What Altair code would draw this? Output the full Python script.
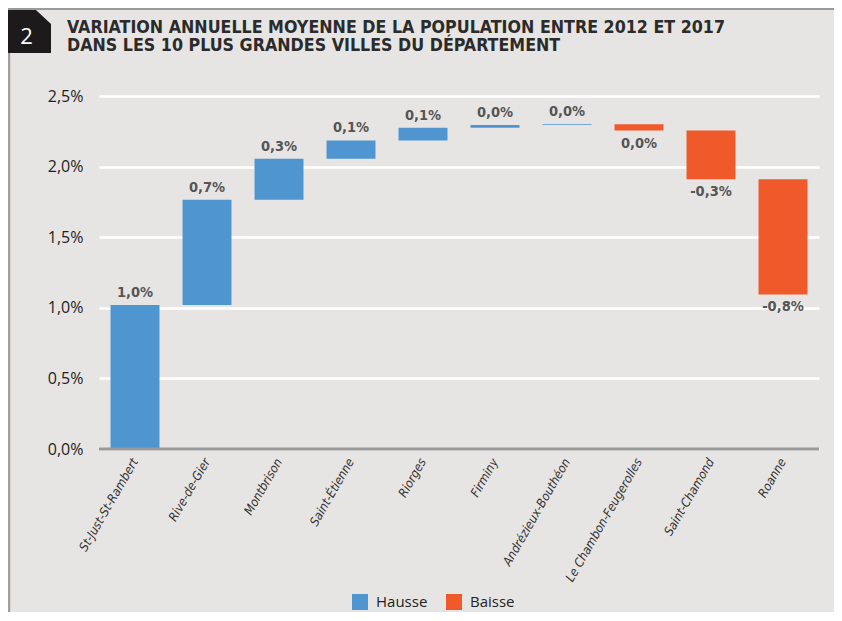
import altair as alt
import pandas as pd

cities = ["St-Just-St-Rambert", "Rive-de-Gier", "Montbrison", "Saint-Étienne", "Riorges",
          "Firminy", "Andrézieux-Bouthéon", "Le Chambon-Feugerolles", "Saint-Chamond", "Roanne"]
deltas = [1.02, 0.745, 0.29, 0.13, 0.09, 0.02, 0.005, -0.045, -0.345, -0.815]
value_labels = ["1,0%", "0,7%", "0,3%", "0,1%", "0,1%", "0,0%", "0,0%", "0,0%", "-0,3%", "-0,8%"]
y_ticks = [0, 0.5, 1.0, 1.5, 2.0, 2.5]
legend_labels = ["Hausse", "Baisse"]
legend_colors = ["#4f95d0", "#f0592a"]
title_line1 = "VARIATION ANNUELLE MOYENNE DE LA POPULATION ENTRE 2012 ET 2017"
title_line2 = "DANS LES 10 PLUS GRANDES VILLES DU DÉPARTEMENT"
box_label = "2"

COND = "DejaVu Sans Condensed, sans-serif"
REG = "Open Sans, Noto Sans, sans-serif"
BG = "#e7e5e3"

ends = []
starts = []
run = 0.0
for d in deltas:
    starts.append(run)
    run += d
    ends.append(run)

df = pd.DataFrame({
    "ville": cities,
    "start": starts,
    "end": ends,
    "delta": deltas,
    "label": value_labels,
    "sens": ["Hausse" if d >= 0 else "Baisse" for d in deltas],
})

W, H = 720, 353

xenc = alt.X("ville:N", sort=cities, title=None,
             scale=alt.Scale(paddingInner=0.32, paddingOuter=0.16),
             axis=alt.Axis(labelAngle=-60, labelFont=COND, labelFontSize=12.5,
                           labelColor="#333333", labelFontStyle="italic",
                           labelPadding=10, ticks=False, domain=False, grid=False))

yscale = alt.Scale(domain=[0, 2.5], nice=False)

grid = alt.Chart(df).mark_bar(opacity=0).encode(
    x=xenc,
    y=alt.Y("start:Q", scale=yscale, title=None,
            axis=alt.Axis(values=y_ticks, grid=True, gridColor="white", gridWidth=2.5,
                          gridOpacity=1, ticks=False, domain=False,
                          labelExpr="replace(format(datum.value, '.1f'), '.', ',') + '%'",
                          labelFont=REG, labelFontSize=16, labelColor="#222222",
                          labelPadding=16)),
)

bars = alt.Chart(df).mark_bar(cornerRadius=0).encode(
    x=alt.X("ville:N", sort=cities),
    y=alt.Y("start:Q", scale=yscale),
    y2="end:Q",
    color=alt.Color("sens:N",
                    scale=alt.Scale(domain=legend_labels, range=legend_colors),
                    legend=alt.Legend(title=None, orient="none", legendX=253, legendY=498,
                                      direction="horizontal", symbolType="square",
                                      symbolSize=256, symbolStrokeWidth=0, symbolOpacity=1,
                                      labelFont=REG, labelFontSize=15, labelColor="#222222",
                                      columnPadding=18, labelOffset=8)),
)

zero = alt.Chart(pd.DataFrame({"v": [0]})).mark_rule(color="#9a9a9a", strokeWidth=3).encode(
    y=alt.Y("v:Q", scale=yscale))

pos_lbl = alt.Chart(df).transform_filter("datum.delta >= 0").mark_text(
    baseline="alphabetic", dy=-8, font=COND, fontSize=14.5, fontWeight="bold", color="#555555"
).encode(x=alt.X("ville:N", sort=cities), y=alt.Y("end:Q", scale=yscale), text="label:N")

neg_lbl = alt.Chart(df).transform_filter("datum.delta < 0").mark_text(
    baseline="top", dy=6, font=COND, fontSize=14.5, fontWeight="bold", color="#555555"
).encode(x=alt.X("ville:N", sort=cities), y=alt.Y("end:Q", scale=yscale), text="label:N")

one = pd.DataFrame({"k": [0]})
top_line = alt.Chart(one).mark_rule(color="#9a9a9a", strokeWidth=2).encode(
    x=alt.value(-91), x2=alt.value(735), y=alt.value(-87))
left_line = alt.Chart(one).mark_rule(color="#a0a0a0", strokeWidth=2.5).encode(
    x=alt.value(-90), y=alt.value(-87), y2=alt.value(520))
box = alt.Chart(one).mark_point(
    shape="M-1,-1L0.3,-1L1,-0.35L1,1L-1,1Z", filled=True, color="#1c1a1a",
    size=1849, opacity=1, strokeWidth=0
).encode(x=alt.value(-69.5), y=alt.value(-64.5))
box_txt = alt.Chart(pd.DataFrame({"t": [box_label]})).mark_text(
    font=REG, fontSize=22, color="white", align="center", baseline="middle"
).encode(x=alt.value(-72.5), y=alt.value(-59.5), text="t:N")

title1 = alt.Chart(pd.DataFrame({"t": [title_line1]})).mark_text(
    font=COND, fontSize=17.7, fontWeight="bold", color="#2b2b2b", align="left",
    baseline="alphabetic"
).encode(x=alt.value(-32), y=alt.value(-63), text="t:N")
title2 = alt.Chart(pd.DataFrame({"t": [title_line2]})).mark_text(
    font=COND, fontSize=17.7, fontWeight="bold", color="#2b2b2b", align="left",
    baseline="alphabetic"
).encode(x=alt.value(-32), y=alt.value(-45), text="t:N")

chart = alt.layer(grid, bars, zero, pos_lbl, neg_lbl, top_line, left_line, box, box_txt,
                  title1, title2).properties(
    width=W, height=H,
    autosize=alt.AutoSizeParams(type="none"),
    padding={"left": 91, "top": 88, "right": 15, "bottom": 163},
    background=BG,
).configure_view(stroke=None)

chart.save("out.html", embed_options={"renderer": "svg", "actions": False})
